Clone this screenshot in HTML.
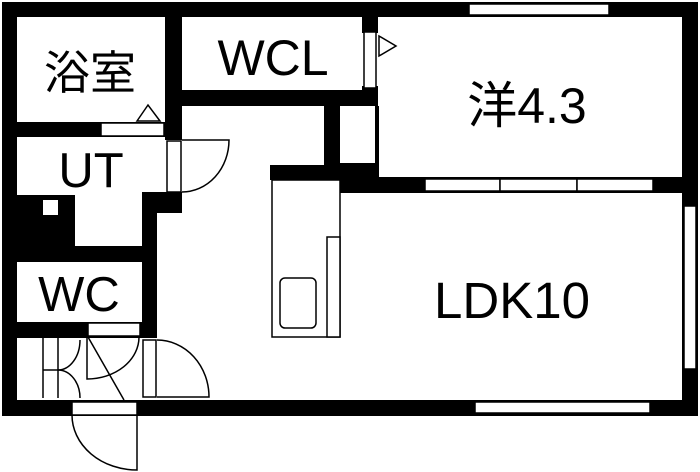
<!DOCTYPE html>
<html><head><meta charset="utf-8"><style>
html,body{margin:0;padding:0;background:#fff;}
svg{display:block;}
text{font-family:"Liberation Sans","Noto Sans CJK JP",sans-serif;fill:#000;}
</style></head><body>
<svg width="700" height="472" viewBox="0 0 700 472" xmlns="http://www.w3.org/2000/svg">
<rect width="700" height="472" fill="#fff"/>
<g fill="#000">
<rect x="2" y="2" width="696" height="15"/>
<rect x="2" y="2" width="15" height="414"/>
<rect x="682" y="2" width="16" height="414"/>
<rect x="2" y="400" width="696" height="16"/>
<rect x="165" y="2" width="17" height="138"/>
<rect x="182" y="90" width="196" height="16"/>
<rect x="362" y="2" width="16" height="31"/>
<rect x="362" y="86" width="16" height="20"/>
<rect x="324" y="90" width="16" height="140"/>
<rect x="330" y="163" width="49" height="30"/>
<rect x="330" y="177" width="352" height="16"/>
<rect x="375" y="106" width="4" height="57"/>
<rect x="270" y="165" width="70" height="15"/>
<rect x="17" y="122" width="148" height="15"/>
<rect x="17" y="195" width="58" height="67"/>
<rect x="142" y="192" width="40" height="21"/>
<rect x="142" y="192" width="15" height="146"/>
<rect x="17" y="246" width="140" height="16"/>
<rect x="17" y="322" width="140" height="16"/>
</g>
<g fill="#fff" stroke="#000" stroke-width="1.5">
<rect x="469" y="4" width="140" height="11"/>
<rect x="684" y="206" width="12" height="163"/>
<rect x="475" y="402" width="175" height="11"/>
<rect x="425" y="179" width="75" height="12"/>
<rect x="500" y="179" width="77" height="12"/>
<rect x="577" y="179" width="76" height="12"/>
<rect x="364" y="32" width="12" height="56"/>
<rect x="101" y="123" width="63" height="13"/>
<rect x="167" y="141" width="14" height="51"/>
<rect x="43" y="200" width="15" height="15" stroke="none"/>
<rect x="88" y="323" width="52" height="13"/>
<rect x="143" y="340" width="13" height="57"/>
<rect x="72" y="402" width="65" height="13"/>
<rect x="272" y="180" width="68" height="157"/>
<rect x="327" y="237" width="13" height="100"/>
<rect x="280" y="278" width="36" height="50" rx="5"/>
</g>
<g fill="none" stroke="#000" stroke-width="1.5">
<polygon points="137,121 148,105 160,121"/>
<polygon points="379,36 396,46 379,56"/>
<path d="M182,140 H229 A47,52 0 0 1 182,192"/>
<path d="M157,340 A52,57 0 0 1 209,397 H157"/>
<path d="M72,415 A65,55 0 0 0 137,470 V415"/>
<path d="M43,338 V398 M58,338 V398 M43,370 H58"/>
<path d="M80,340 A22,30 0 0 1 58,370"/>
<path d="M58,370 A22,28 0 0 1 80,398"/>
<path d="M87,337 V379 A52,42 0 0 0 139,337"/>
<path d="M88,337 L124,400"/>
</g>
<text x="90" y="89" font-size="46" text-anchor="middle">浴室</text>
<text x="273" y="75" font-size="50" text-anchor="middle">WCL</text>
<text x="91" y="187" font-size="49" text-anchor="middle">UT</text>
<text x="79" y="311" font-size="49" text-anchor="middle">WC</text>
<text x="527" y="123" font-size="50" text-anchor="middle">洋4.3</text>
<text x="512" y="318" font-size="51" text-anchor="middle">LDK10</text>
</svg>
</body></html>
